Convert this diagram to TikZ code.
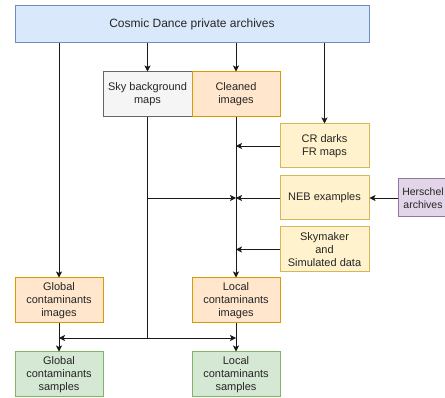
\documentclass[tikz,border=0pt]{standalone}
\usepackage{fontspec}
\setmainfont{Liberation Sans}
\usetikzlibrary{arrows.meta}
\definecolor{bfill}{HTML}{DAE8FC}\definecolor{bdraw}{HTML}{6C8EBF}
\definecolor{gfill}{HTML}{F5F5F5}\definecolor{gdraw}{HTML}{666666}
\definecolor{ofill}{HTML}{FFE6CC}\definecolor{odraw}{HTML}{D79B00}
\definecolor{yfill}{HTML}{FFF2CC}\definecolor{ydraw}{HTML}{D6B656}
\definecolor{pfill}{HTML}{E1D5E7}\definecolor{pdraw}{HTML}{9673A6}
\definecolor{nfill}{HTML}{D5E8D4}\definecolor{ndraw}{HTML}{82B366}
\tikzset{
  box/.style={draw, line width=1pt, minimum width=#1, align=center, inner sep=1pt,
    font=\fontsize{11}{13}\selectfont, text=black!85},
  bluebox/.style={box=354pt, fill=bfill, draw=bdraw, minimum height=37pt, font=\fontsize{12}{14}\selectfont},
  graybox/.style={box=89pt, fill=gfill, draw=gdraw, minimum height=45pt},
  orangebox/.style={box=88pt, fill=ofill, draw=odraw, minimum height=45pt},
  yellowbox/.style={box=89pt, fill=yfill, draw=ydraw, minimum height=44pt},
  purplebox/.style={box=50pt, fill=pfill, draw=pdraw, minimum height=38pt, font=\fontsize{10.5}{12.5}\selectfont},
  greenbox/.style={box=88pt, fill=nfill, draw=ndraw, minimum height=45pt},
  conn/.style={draw=black!90, line width=0.8pt},
  arr/.style={conn, -{Stealth[length=6pt,width=6pt,inset=1.5pt]}}
}
\begin{document}
\begin{tikzpicture}[x=1pt,y=-1pt]
\useasboundingbox (0,0) rectangle (445,398);
\node[bluebox] (top) at (192,24.5) {Cosmic Dance private archives};
\node[graybox] (sky) at (147.5,94.5) {Sky background\\maps};
\node[orangebox] (clean) at (236,94.5) {Cleaned\\images};
\node[yellowbox] (cr) at (324.5,146) {CR darks\\FR maps};
\node[yellowbox] (neb) at (324.5,198) {NEB examples};
\node[yellowbox, minimum height=45pt] (skym) at (324.5,249.5) {Skymaker\\and\\Simulated data};
\node[purplebox] (hers) at (423,198) {Herschel\\archives};
\node[orangebox] (gi) at (59,300.5) {Global\\contaminants\\images};
\node[orangebox] (li) at (236,300.5) {Local\\contaminants\\images};
\node[greenbox] (gs) at (59,374.5) {Global\\contaminants\\samples};
\node[greenbox] (ls) at (236,374.5) {Local\\contaminants\\samples};
\coordinate (j) at (sky |- 0,338);
% from top
\draw[arr] (top.south -| gi) -- (gi.north);
\draw[arr] (top.south -| sky) -- (sky.north);
\draw[arr] (top.south -| clean) -- (clean.north);
\draw[arr] (top.south -| cr) -- (cr.north);
% into cleaned line
\draw[arr] (clean.south) -- (li.north);
\draw[arr] (cr.west) -- (cr.west -| clean);
\draw[arr] (neb.west) -- (neb.west -| clean);
\draw[arr] (skym.west) -- (skym.west -| clean);
\draw[arr] (hers.west) -- (neb.east);
% sky background line
\draw[conn] (sky.south) -- (j);
\draw[arr] (sky |- neb) -- (clean |- neb);
\draw[arr] (j) -- (gi |- j);
\draw[arr] (j) -- (li |- j);
% to samples
\draw[arr] (gi.south) -- (gs.north);
\draw[arr] (li.south) -- (ls.north);
\end{tikzpicture}
\end{document}
